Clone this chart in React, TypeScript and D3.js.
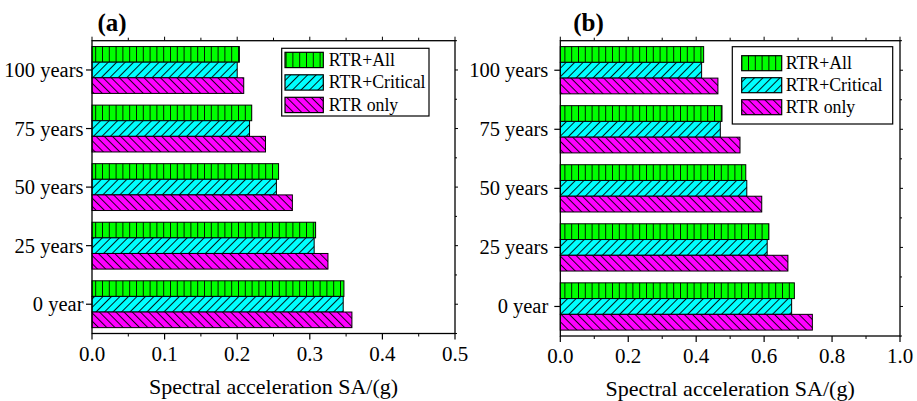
import React from "react";
import * as d3 from "d3";

// Service-life categories, drawn top to bottom
const periods = ["100 years", "75 years", "50 years", "25 years", "0 year"];
const seriesNames = ["RTR+All", "RTR+Critical", "RTR only"];

// Panel (a) spectral acceleration values, per period (same order as periods)
const aAll = [0.203, 0.22, 0.257, 0.308, 0.347];
const aCritical = [0.2, 0.217, 0.254, 0.306, 0.346];
const aOnly = [0.209, 0.239, 0.276, 0.325, 0.358];

// Panel (b) spectral acceleration values
const bAll = [0.422, 0.476, 0.546, 0.614, 0.689];
const bCritical = [0.416, 0.471, 0.549, 0.609, 0.681];
const bOnly = [0.464, 0.529, 0.593, 0.67, 0.742];

const aTicks = [0, 0.1, 0.2, 0.3, 0.4, 0.5];
const bTicks = [0, 0.2, 0.4, 0.6, 0.8, 1.0];

const FONT = "'Liberation Serif', 'Times New Roman', serif";
const fills = ["#00ff00", "#00ffff", "#ff00ff"];
const patternIds = ["pat-vert", "pat-fwd", "pat-back"];

type LegendCfg = {
  x: number; y: number; w: number; h: number;
  sx: number; sy: number; sw: number; sh: number; step: number; tx: number;
};

type PanelProps = {
  label: string;
  labelX: number;
  left: number; right: number; top: number; bottom: number;
  domainMax: number;
  ticks: number[];
  minorStep: number;
  series: number[][];
  labelGap: number;
  legend: LegendCfg;
};

function Panel(p: PanelProps) {
  const x = d3.scaleLinear().domain([0, p.domainMax]).range([p.left, p.right]);
  const y = d3
    .scaleBand<string>()
    .domain(periods)
    .range([p.top, p.bottom])
    .paddingInner(0.2)
    .paddingOuter(0.1);
  const inner = d3
    .scaleBand<number>()
    .domain([0, 1, 2])
    .range([0, y.bandwidth()]);

  const minors = d3
    .range(0, Math.round(p.domainMax / p.minorStep) + 1)
    .map((i) => i * p.minorStep)
    .filter((v) => !p.ticks.some((t) => Math.abs(t - v) < 1e-9));

  const step = y.step();
  const catCenters = periods.map((c) => (y(c) as number) + y.bandwidth() / 2);
  const midPts = [p.top, ...catCenters.map((c) => c + step / 2)].filter(
    (v) => v <= p.bottom + 0.5
  );

  const fmt = d3.format(".1f");
  const L = p.legend;

  return (
    <g>
      <text
        x={p.labelX}
        y={31}
        fontFamily={FONT}
        fontWeight="bold"
        fontSize={25}
      >
        {p.label}
      </text>

      {/* bars */}
      {periods.map((c, i) => (
        <g key={c}>
          {p.series.map((vals, s) => {
            const by = (y(c) as number) + (inner(s) as number);
            return (
              <g key={s}>
                <rect
                  x={x(0)}
                  y={by}
                  width={x(vals[i]) - x(0)}
                  height={inner.bandwidth()}
                  fill={fills[s]}
                />
                <rect
                  x={x(0)}
                  y={by}
                  width={x(vals[i]) - x(0)}
                  height={inner.bandwidth()}
                  fill={`url(#${patternIds[s]})`}
                  stroke="#000"
                  strokeWidth={1}
                />
              </g>
            );
          })}
        </g>
      ))}

      {/* frame */}
      <rect
        x={p.left}
        y={p.top}
        width={p.right - p.left}
        height={p.bottom - p.top}
        fill="none"
        stroke="#000"
        strokeWidth={1.3}
      />

      {/* bottom and top ticks */}
      {p.ticks.map((t) => (
        <g key={"t" + t}>
          <line x1={x(t)} x2={x(t)} y1={p.bottom} y2={p.bottom + 6} stroke="#000" strokeWidth={1.2} />
          <line x1={x(t)} x2={x(t)} y1={p.top} y2={p.top - 4} stroke="#000" strokeWidth={1} />
          <text
            x={x(t)}
            y={p.bottom + 27}
            textAnchor="middle"
            fontFamily={FONT}
            fontSize={21}
          >
            {fmt(t)}
          </text>
        </g>
      ))}
      {minors.map((t) => (
        <g key={"m" + t}>
          <line x1={x(t)} x2={x(t)} y1={p.bottom} y2={p.bottom + 3} stroke="#000" strokeWidth={1} />
          <line x1={x(t)} x2={x(t)} y1={p.top} y2={p.top - 3} stroke="#000" strokeWidth={1} />
        </g>
      ))}

      {/* left category ticks and labels */}
      {periods.map((c, i) => (
        <g key={"y" + c}>
          <line x1={p.left - 6} x2={p.left} y1={catCenters[i]} y2={catCenters[i]} stroke="#000" strokeWidth={1.2} />
          <line x1={p.right} x2={p.right + 3} y1={catCenters[i]} y2={catCenters[i]} stroke="#000" strokeWidth={1} />
          <text
            x={p.left - p.labelGap}
            y={catCenters[i] + 7}
            textAnchor="end"
            fontFamily={FONT}
            fontSize={20.5}
          >
            {c}
          </text>
        </g>
      ))}
      {midPts.map((m, i) => (
        <line key={"rm" + i} x1={p.right} x2={p.right + 2} y1={m} y2={m} stroke="#000" strokeWidth={1} />
      ))}

      {/* axis title */}
      <text
        x={(p.left + p.right) / 2}
        y={p.bottom + 60}
        textAnchor="middle"
        fontFamily={FONT}
        fontSize={22}
      >
        Spectral acceleration SA/(g)
      </text>

      {/* legend */}
      <rect x={L.x} y={L.y} width={L.w} height={L.h} fill="#fff" stroke="#000" strokeWidth={1.2} />
      {seriesNames.map((name, s) => (
        <g key={name}>
          <rect x={L.sx} y={L.sy + s * L.step} width={L.sw} height={L.sh} fill={fills[s]} />
          <rect
            x={L.sx}
            y={L.sy + s * L.step}
            width={L.sw}
            height={L.sh}
            fill={`url(#${patternIds[s]})`}
            stroke="#000"
            strokeWidth={1.2}
          />
          <text
            x={L.tx}
            y={L.sy + s * L.step + 13.5}
            fontFamily={FONT}
            fontSize={17.8}
          >
            {name}
          </text>
        </g>
      ))}
    </g>
  );
}

export default function App() {
  return (
    <svg width={917} height={401} style={{ position: "absolute", left: 0, top: 0, background: "#fff" }}>
      <defs>
        <pattern id="pat-vert" patternUnits="userSpaceOnUse" width={6.8} height={10}>
          <line x1={0.5} x2={0.5} y1={0} y2={10} stroke="#000" strokeWidth={0.9} />
        </pattern>
        <pattern
          id="pat-fwd"
          patternUnits="userSpaceOnUse"
          width={6}
          height={10}
          patternTransform="rotate(45)"
        >
          <line x1={0.5} x2={0.5} y1={0} y2={10} stroke="#000" strokeWidth={0.9} />
        </pattern>
        <pattern
          id="pat-back"
          patternUnits="userSpaceOnUse"
          width={5.8}
          height={10}
          patternTransform="rotate(-45)"
        >
          <line x1={0.5} x2={0.5} y1={0} y2={10} stroke="#000" strokeWidth={0.9} />
        </pattern>
      </defs>
      <Panel
        label="(a)"
        labelX={97.5}
        left={92}
        right={455}
        top={40.7}
        bottom={333.5}
        domainMax={0.5}
        ticks={aTicks}
        minorStep={0.05}
        series={[aAll, aCritical, aOnly]}
        labelGap={8.5}
        legend={{ x: 281.7, y: 48.3, w: 147.3, h: 67.7, sx: 285, sy: 52.3, sw: 38.3, sh: 15.3, step: 22.5, tx: 328.7 }}
      />
      <Panel
        label="(b)"
        labelX={573.3}
        left={560.3}
        right={900}
        top={40.7}
        bottom={336}
        domainMax={1.0}
        ticks={bTicks}
        minorStep={0.1}
        series={[bAll, bCritical, bOnly]}
        labelGap={12}
        legend={{ x: 732.3, y: 46.7, w: 160.4, h: 77.3, sx: 741.7, sy: 55.7, sw: 40, sh: 15, step: 22, tx: 785.7 }}
      />
    </svg>
  );
}
